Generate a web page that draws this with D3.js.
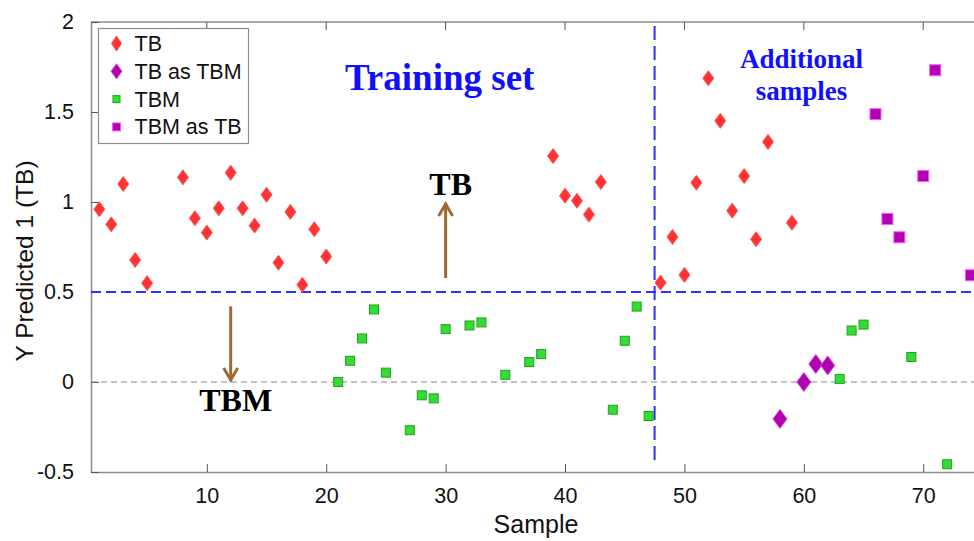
<!DOCTYPE html>
<html>
<head>
<meta charset="utf-8">
<script src="https://cdn.jsdelivr.net/npm/d3@7"></script>
<style>
  html, body { margin: 0; padding: 0; background: #fff; }
  svg { display: block; }
</style>
</head>
<body>
<svg id="chart" width="974" height="541"></svg>
<script>
// Predicted class score per sample (PLS-DA, class 1 = TB)
const tbSamples = [1, 2, 3, 4, 5, 8, 9, 10, 11, 12, 13, 14, 15, 16, 17, 18, 19, 20,
                   39, 40, 41, 42, 43, 48, 49, 50, 51, 52, 53, 54, 55, 56, 57, 59];
const tbValues = [0.96, 0.876, 1.10, 0.678, 0.549, 1.137, 0.91, 0.83, 0.965, 1.163, 0.965, 0.869,
                  1.04, 0.663, 0.945, 0.54, 0.849, 0.697,
                  1.255, 1.035, 1.007, 0.93, 1.111, 0.552, 0.806, 0.595, 1.107, 1.688, 1.451,
                  0.952, 1.144, 0.793, 1.334, 0.885];

const tbAsTbmSamples = [58, 60, 61, 62];
const tbAsTbmValues = [-0.205, 0.0, 0.10, 0.092];

const tbmSamples = [21, 22, 23, 24, 25, 27, 28, 29, 30, 32, 33, 35, 37, 38, 44, 45, 46, 47,
                    63, 64, 65, 69, 72];
const tbmValues = [0.0, 0.118, 0.242, 0.403, 0.052, -0.268, -0.074, -0.091, 0.294, 0.314, 0.331,
                   0.04, 0.111, 0.155, -0.154, 0.229, 0.419, -0.189,
                   0.017, 0.286, 0.319, 0.139, -0.457];

const tbmAsTbSamples = [66, 67, 68, 70, 71, 74];
const tbmAsTbValues = [1.488, 0.906, 0.804, 1.144, 1.732, 0.593];

const xTicks = [10, 20, 30, 40, 50, 60, 70];
const yTicks = [-0.5, 0, 0.5, 1, 1.5, 2];
const yTickLabels = ["-0.5", "0", "0.5", "1", "1.5", "2"];

const legendLabels = ["TB", "TB as TBM", "TBM", "TBM as TB"];

const classThreshold = 0.5;     // decision boundary on the predicted score
const trainingSplit = 47.5;     // training set | additional samples

// ---- layout ----
const svg = d3.select("#chart");
const plotLeft = 91, plotRight = 974, plotTop = 22, plotBottom = 472;

const x = d3.scaleLinear().domain([0.3, 74.25]).range([plotLeft, plotRight]);
const y = d3.scaleLinear().domain([-0.5, 2]).range([plotBottom, plotTop]);

const axisColor = "#8c8c8c";
const sans = "Arial, 'Liberation Sans', sans-serif";
const serif = "'Times New Roman', 'Liberation Serif', serif";

// ---- frame ----
svg.append("line").attr("x1", plotLeft).attr("x2", plotRight).attr("y1", plotTop).attr("y2", plotTop)
  .attr("stroke", axisColor).attr("stroke-width", 1.5);

// bottom axis with inward ticks
const xAxis = svg.append("g").attr("transform", `translate(0,${plotBottom})`)
  .call(d3.axisBottom(x).tickValues(xTicks).tickSizeInner(-8).tickSizeOuter(0).tickPadding(16).tickFormat(d3.format("d")));
xAxis.select(".domain").attr("stroke", axisColor).attr("stroke-width", 1.5);
xAxis.selectAll(".tick line").attr("stroke", "#555");
xAxis.selectAll("text").attr("font-family", sans).attr("font-size", 21.5).attr("fill", "#111");

// top ticks
svg.append("g").selectAll("line").data(xTicks).join("line")
  .attr("x1", d => x(d)).attr("x2", d => x(d)).attr("y1", plotTop).attr("y2", plotTop + 8)
  .attr("stroke", "#555");

// left axis with inward ticks
const yAxis = svg.append("g").attr("transform", `translate(${plotLeft},0)`)
  .call(d3.axisLeft(y).tickValues(yTicks).tickSizeInner(-8).tickSizeOuter(0).tickPadding(17)
    .tickFormat((d, i) => yTickLabels[i]));
yAxis.select(".domain").attr("stroke", axisColor).attr("stroke-width", 1.5);
yAxis.selectAll(".tick line").attr("stroke", "#555");
yAxis.selectAll("text").attr("font-family", sans).attr("font-size", 21.5).attr("fill", "#111");

// axis titles
svg.append("text").attr("x", 536).attr("y", 533)
  .attr("text-anchor", "middle").attr("font-family", sans).attr("font-size", 25).attr("fill", "#111")
  .text("Sample");
svg.append("text").attr("transform", "translate(33,261) rotate(-90)")
  .attr("text-anchor", "middle").attr("font-family", sans).attr("font-size", 24.5).attr("fill", "#111")
  .text("Y Predicted 1 (TB)");

// ---- reference lines ----
svg.append("line").attr("x1", plotLeft).attr("x2", plotRight).attr("y1", y(0)).attr("y2", y(0))
  .attr("stroke", "#888").attr("stroke-width", 1).attr("stroke-dasharray", "6,4");
svg.append("line").attr("x1", plotLeft).attr("x2", plotRight).attr("y1", y(classThreshold)).attr("y2", y(classThreshold))
  .attr("stroke", "#2f2fff").attr("stroke-width", 2).attr("stroke-dasharray", "10,5");
svg.append("line").attr("x1", x(trainingSplit)).attr("x2", x(trainingSplit)).attr("y1", plotTop + 4).attr("y2", plotBottom - 6)
  .attr("stroke", "#2f2fff").attr("stroke-width", 2).attr("stroke-dasharray", "14,6");

// ---- markers ----
function diamond(w, h) {
  return `M0,${-h / 2}L${w / 2},0L0,${h / 2}L${-w / 2},0Z`;
}
const styles = {
  tb:      { shape: "diamond", w: 11, h: 15, fill: "#ff3333", stroke: "#ff5555" },
  tbAsTbm: { shape: "diamond", w: 14, h: 19, fill: "#b000b0", stroke: "#e040e0" },
  tbm:     { shape: "square",  s: 9, fill: "#33dd33", stroke: "#22a022" },
  tbmAsTb: { shape: "square",  s: 11, fill: "#b000b0", stroke: "#ff55ff" }
};
function drawMarkers(g, xs, ys, st) {
  const pts = xs.map((s, i) => [s, ys[i]]);
  if (st.shape === "diamond") {
    g.selectAll(null).data(pts).join("path")
      .attr("d", diamond(st.w, st.h))
      .attr("transform", d => `translate(${x(d[0])},${y(d[1])})`)
      .attr("fill", st.fill).attr("stroke", st.stroke).attr("stroke-width", 1);
  } else {
    g.selectAll(null).data(pts).join("rect")
      .attr("x", d => x(d[0]) - st.s / 2).attr("y", d => y(d[1]) - st.s / 2)
      .attr("width", st.s).attr("height", st.s)
      .attr("fill", st.fill).attr("stroke", st.stroke).attr("stroke-width", 1);
  }
}
const marks = svg.append("g");
drawMarkers(marks, tbSamples, tbValues, styles.tb);
drawMarkers(marks, tbAsTbmSamples, tbAsTbmValues, styles.tbAsTbm);
drawMarkers(marks, tbmSamples, tbmValues, styles.tbm);
drawMarkers(marks, tbmAsTbSamples, tbmAsTbValues, styles.tbmAsTb);

// ---- annotations ----
const brown = "#a06a35";
function arrow(xv, yFrom, yTo) {
  const x0 = x(xv), y0 = y(yFrom), y1 = y(yTo);
  const dir = y1 < y0 ? 1 : -1;
  svg.append("line").attr("x1", x0).attr("x2", x0).attr("y1", y0).attr("y2", y1)
    .attr("stroke", brown).attr("stroke-width", 3);
  svg.append("path")
    .attr("d", `M${x0 - 7},${y1 + dir * 13}L${x0},${y1 + dir * 1}L${x0 + 7},${y1 + dir * 13}`)
    .attr("fill", "none").attr("stroke", brown).attr("stroke-width", 3).attr("stroke-linejoin", "miter");
}
arrow(30, 0.578, 0.995);
arrow(12, 0.42, 0.005);

svg.append("text").attr("x", x(30) + 5).attr("y", y(1.04)).attr("text-anchor", "middle")
  .attr("font-family", serif).attr("font-weight", "bold").attr("font-size", 32).attr("fill", "#000")
  .text("TB");
svg.append("text").attr("x", x(12) + 5).attr("y", y(-0.163)).attr("text-anchor", "middle")
  .attr("font-family", serif).attr("font-weight", "bold").attr("font-size", 32).attr("fill", "#000")
  .text("TBM");

svg.append("text").attr("x", x(29.5)).attr("y", y(1.625)).attr("text-anchor", "middle")
  .attr("font-family", serif).attr("font-weight", "bold").attr("font-size", 37).attr("fill", "#1010ff")
  .text("Training set");
const add = svg.append("text").attr("text-anchor", "middle")
  .attr("font-family", serif).attr("font-weight", "bold").attr("font-size", 27).attr("fill", "#1010ff");
add.append("tspan").attr("x", x(59.8)).attr("y", y(1.743)).text("Additional");
add.append("tspan").attr("x", x(59.8)).attr("y", y(1.565)).text("samples");

// ---- legend ----
const lg = svg.append("g").attr("transform", "translate(98.5,28.5)");
lg.append("rect").attr("width", 150).attr("height", 115)
  .attr("fill", "#fff").attr("stroke", axisColor).attr("stroke-width", 1.2);
const legendStyles = [
  { shape: "diamond", w: 10, h: 15, fill: "#ff3333", stroke: "#ff5555" },
  { shape: "diamond", w: 11, h: 15, fill: "#b000b0", stroke: "#e040e0" },
  { shape: "square", s: 7, fill: "#33dd33", stroke: "#22a022" },
  { shape: "square", s: 8, fill: "#b000b0", stroke: "#ff55ff" }
];
legendLabels.forEach((lab, i) => {
  const cy = 15 + i * 27.8, cx = 18;
  const st = legendStyles[i];
  if (st.shape === "diamond") {
    lg.append("path").attr("d", diamond(st.w, st.h)).attr("transform", `translate(${cx},${cy})`)
      .attr("fill", st.fill).attr("stroke", st.stroke);
  } else {
    lg.append("rect").attr("x", cx - st.s / 2).attr("y", cy - st.s / 2).attr("width", st.s).attr("height", st.s)
      .attr("fill", st.fill).attr("stroke", st.stroke);
  }
  lg.append("text").attr("x", 36).attr("y", cy + 7.5)
    .attr("font-family", sans).attr("font-size", 21.5).attr("fill", "#111").text(lab);
});
</script>
</body>
</html>
